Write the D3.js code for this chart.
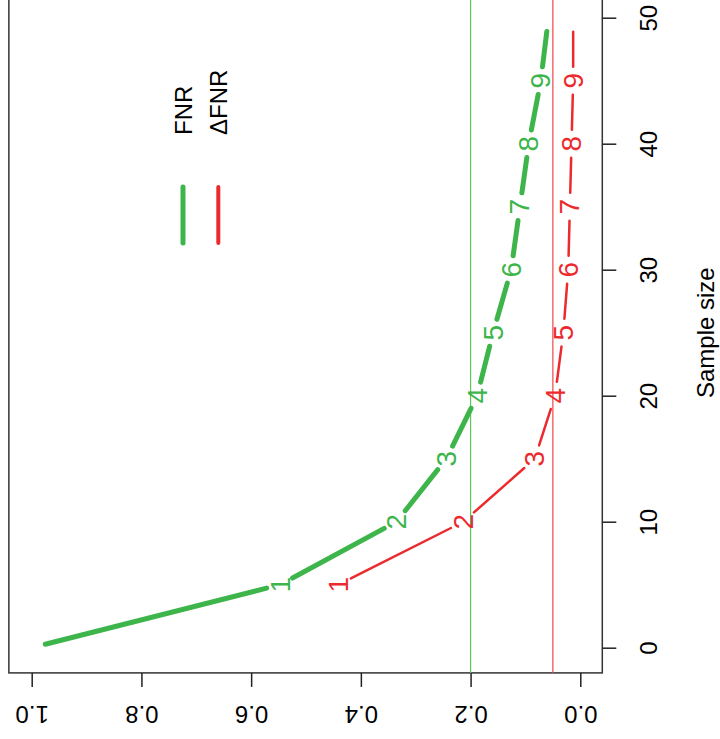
<!DOCTYPE html>
<html>
<head>
<meta charset="utf-8">
<title>FNR vs sample size</title>
<script src="https://cdnjs.cloudflare.com/ajax/libs/d3/7.8.5/d3.min.js"></script>
<style>
  * { margin: 0; padding: 0; }
  body { background: #fff; }
  svg text { font-family: "Liberation Sans", Arial, sans-serif; }
</style>
</head>
<body>
<script>
var sampleSize = [0, 5, 10, 15, 20, 25, 30, 35, 40, 45, 50];
var fnr = [1.0, 0.547, 0.335, 0.244, 0.188, 0.159, 0.126, 0.110, 0.094, 0.072, 0.058];
var dfnr = [null, 0.441, 0.213, 0.083, 0.046, 0.031, 0.022, 0.019, 0.016, 0.013, 0.013];
var pointLabels = ["", "1", "2", "3", "4", "5", "6", "7", "8", "9", ""];
var valueTicks = [0, 0.2, 0.4, 0.6, 0.8, 1.0];
var sizeTicks = [0, 10, 20, 30, 40, 50];
var refLines = [0.2, 0.05];
var legendNames = ["FNR", "\u0394FNR"];

var green = "#3db54a", red = "#ec2a2e";

var width = 720, height = 739;

var svg = d3.select("body").append("svg")
    .attr("width", width)
    .attr("height", height);

// plot is turned a quarter turn: value runs right-to-left, sample size bottom-to-top
var x = d3.scaleLinear().domain([0, 1]).range([580.3, 31.7]);
var y = d3.scaleLinear().domain([0, 50]).range([647.7, 17.7]);

// frame (R adds 4% on each side)
svg.append("rect")
    .attr("x", x(1.0416)).attr("y", y(52))
    .attr("width", x(-0.0401) - x(1.0416))
    .attr("height", y(-2) - y(52))
    .attr("fill", "none")
    .attr("stroke", "#333")
    .attr("stroke-width", 1.5);

// reference lines
svg.selectAll(".ref")
    .data(refLines)
    .enter().append("line")
    .attr("class", "ref")
    .attr("x1", function(d) { return x(d); })
    .attr("x2", function(d) { return x(d); })
    .attr("y1", y(52)).attr("y2", y(-2))
    .attr("stroke", function(d, i) { return i == 0 ? "#5cc55c" : "#f0454a"; })
    .attr("stroke-width", 1.2);

// value axis along the bottom, labels upside down
var xAxis = svg.append("g")
    .attr("transform", "translate(0," + y(-2) + ")")
    .call(d3.axisBottom(x).tickValues(valueTicks).tickFormat(d3.format(".1f")).tickSize(14).tickSizeOuter(0));
xAxis.select(".domain").remove();
xAxis.selectAll(".tick line").attr("stroke", "#222").attr("stroke-width", 1.5);
xAxis.selectAll(".tick text")
    .attr("y", 0).attr("dy", null)
    .attr("transform", "translate(0,42) rotate(180)")
    .attr("dominant-baseline", "central")
    .style("font-size", "24px")
    .attr("fill", "#000");

// sample size axis on the right
var yAxis = svg.append("g")
    .attr("transform", "translate(" + x(-0.0401) + ",0)")
    .call(d3.axisRight(y).tickValues(sizeTicks).tickSize(14).tickSizeOuter(0));
yAxis.select(".domain").remove();
yAxis.selectAll(".tick line").attr("stroke", "#222").attr("stroke-width", 1.5);
yAxis.selectAll(".tick text")
    .attr("x", 0).attr("dy", null)
    .attr("text-anchor", "middle")
    .attr("dominant-baseline", "central")
    .attr("transform", "translate(46,0) rotate(-90)")
    .style("font-size", "24px")
    .attr("fill", "#000");

svg.append("text")
    .attr("transform", "translate(705," + y(25) + ") rotate(-90)")
    .attr("text-anchor", "middle")
    .attr("dominant-baseline", "central")
    .style("font-size", "24px")
    .text("Sample size");

// type="b" style: segments stop short of each point
var gap = 14;
function drawSeries(vals, color, lw) {
    var pts = [];
    sampleSize.forEach(function(s, i) {
        if (vals[i] != null) pts.push({ px: x(vals[i]), py: y(s), label: pointLabels[i] });
    });
    var segs = [];
    for (var i = 0; i < pts.length - 1; i++) {
        var a = pts[i], b = pts[i + 1];
        var dx = b.px - a.px, dy = b.py - a.py, len = Math.sqrt(dx * dx + dy * dy);
        if (len <= 2 * gap) continue;
        var ux = dx / len, uy = dy / len;
        segs.push([a.px + ux * gap, a.py + uy * gap, b.px - ux * gap, b.py - uy * gap]);
    }
    svg.append("g").selectAll("line")
        .data(segs)
        .enter().append("line")
        .attr("x1", function(d) { return d[0]; })
        .attr("y1", function(d) { return d[1]; })
        .attr("x2", function(d) { return d[2]; })
        .attr("y2", function(d) { return d[3]; })
        .attr("stroke", color)
        .attr("stroke-width", lw)
        .attr("stroke-linecap", "round");
    svg.append("g").selectAll("text")
        .data(pts.filter(function(p) { return p.label; }))
        .enter().append("text")
        .attr("transform", function(d) { return "translate(" + d.px + "," + d.py + ") rotate(-90)"; })
        .attr("text-anchor", "middle")
        .attr("dominant-baseline", "central")
        .style("font-size", "28px")
        .attr("fill", color)
        .text(function(d) { return d.label; });
}
drawSeries(fnr, green, 5);
drawSeries(dfnr, red, 2.5);

// legend
var legend = svg.selectAll(".legend")
    .data(legendNames)
    .enter().append("g")
    .attr("class", "legend")
    .attr("transform", function(d, i) { return "translate(" + (183 + i * 35.3) + ",0)"; });

legend.append("line")
    .attr("x1", 0).attr("x2", 0)
    .attr("y1", 187).attr("y2", 243)
    .attr("stroke", function(d, i) { return i == 0 ? green : red; })
    .attr("stroke-width", function(d, i) { return i == 0 ? 5 : 4; })
    .attr("stroke-linecap", "round");

legend.append("text")
    .attr("transform", "translate(0,135) rotate(-90)")
    .attr("dominant-baseline", "central")
    .style("font-size", "24px")
    .text(function(d) { return d; });
</script>
</body>
</html>
